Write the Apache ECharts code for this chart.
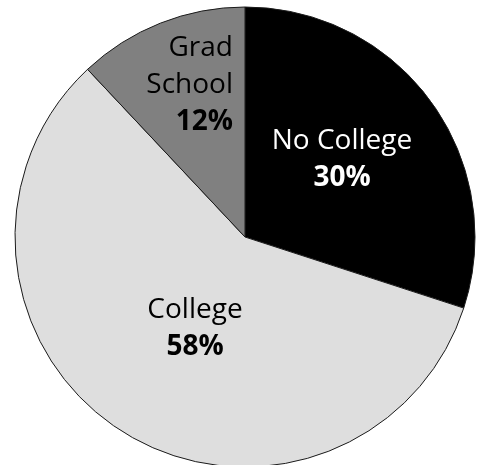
<!DOCTYPE html>
<html>
<head>
<meta charset="utf-8">
<script src="https://cdn.jsdelivr.net/npm/echarts@6/dist/echarts.min.js"></script>
<style>
html,body{margin:0;padding:0;background:#fff;}
#chart{width:485px;height:465px;}
</style>
</head>
<body>
<div id="chart"></div>
<script>
var categories = ['No College', 'College', 'Grad School'];
var values = [30, 58, 12];
var labelLines = [['No College'], ['College'], ['Grad', 'School']];

var colors = ['#000000', '#dedede', '#808080'];
var textColors = ['#ffffff', '#000000', '#000000'];
// label anchor positions relative to pie centre (style only)
var labelPos = [
  {dx: 97, dy: -77, align: 'center'},
  {dx: -50, dy: 92, align: 'center'},
  {dx: -12, dy: -152, align: 'right'}
];

var cx = 245, cy = 237;
var chart = echarts.init(document.getElementById('chart'));
var data = categories.map(function (c, i) {
  return {
    name: c,
    value: values[i],
    itemStyle: {color: colors[i]},
    label: {
      color: textColors[i],
      rich: {
        n: {color: textColors[i], fontFamily: 'Open Sans', fontSize: 28, lineHeight: 37},
        p: {color: textColors[i], fontFamily: 'Open Sans', fontSize: 28, lineHeight: 37, fontWeight: 'bold'}
      }
    }
  };
});
chart.setOption({
  animation: false,
  series: [{
    type: 'pie',
    center: [cx, cy],
    radius: [0, 230],
    startAngle: 90,
    clockwise: true,
    data: data,
    itemStyle: {borderColor: '#1a1a1a', borderWidth: 1},
    label: {
      show: true,
      position: 'inside',
      fontFamily: 'Open Sans',
      fontSize: 28,
      lineHeight: 37,
      formatter: function (p) {
        var lines = labelLines[p.dataIndex].map(function (t) { return '{n|' + t + '}'; });
        lines.push('{p|' + Math.round(p.percent) + '%}');
        return lines.join('\n');
      }
    },
    labelLine: {show: false},
    labelLayout: function (params) {
      var lp = labelPos[params.dataIndex];
      return {x: cx + lp.dx, y: cy + lp.dy, align: lp.align, verticalAlign: 'middle'};
    },
    emphasis: {disabled: true}
  }]
});
</script>
</body>
</html>
